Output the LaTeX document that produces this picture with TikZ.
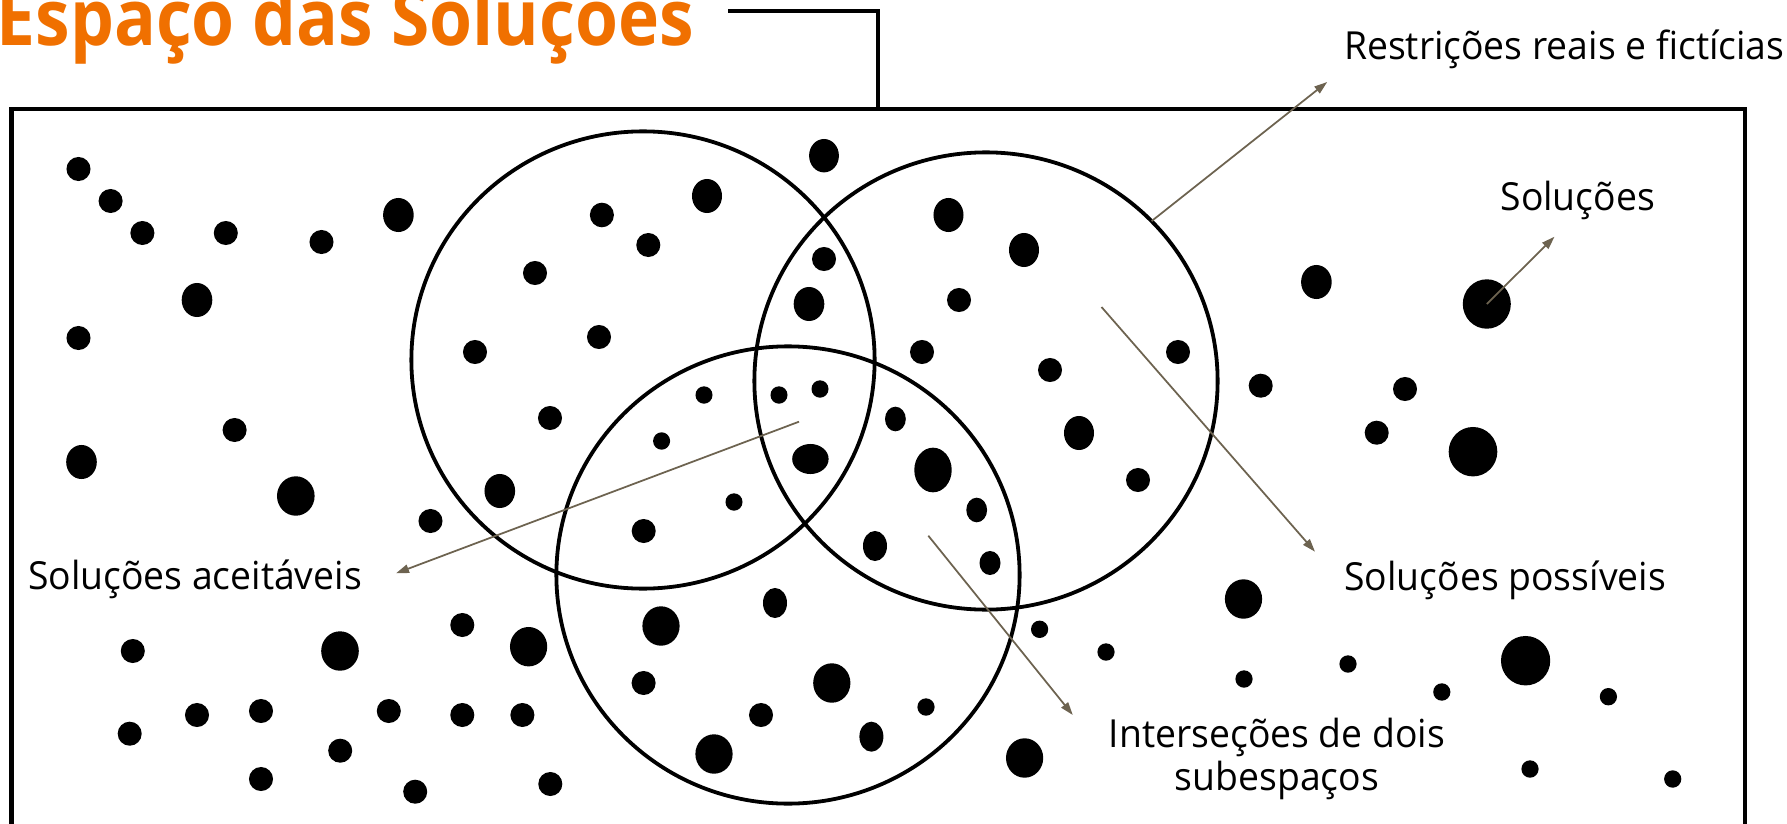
\documentclass[tikz,border=0pt]{standalone}
\usepackage{fontspec}
\setmainfont{Open Sans}[FakeStretch=0.965]
\newfontfamily\titlefont{Open Sans}[FakeStretch=0.89]
\usetikzlibrary{arrows.meta,shapes.geometric}
\definecolor{titleorange}{RGB}{240,112,0}
\definecolor{pointer}{RGB}{109,99,80}
\tikzset{
  frame/.style={line width=1.14pt, line join=miter},
  subspace/.style={ellipse, draw, line width=1.08pt, inner sep=0pt, outer sep=0pt,
    minimum width=4.63cm, minimum height=4.57cm},
  dot/.style={ellipse, fill=black, draw=none, inner sep=0pt, outer sep=0pt},
  lbl/.style={inner sep=0pt, outer sep=0pt, font=\fontsize{11}{12.2}\selectfont},
  pointerline/.style={draw=pointer, line width=0.5pt,
    -{Triangle[length=0.13cm,width=0.085cm]}, fill=pointer},
}
\begin{document}
\begin{tikzpicture}[x=0.01cm, y=-0.01cm]
\useasboundingbox (0,0) rectangle (1787,824);
\clip (0,0) rectangle (1787,824);

% title and its link to the frame
\node[inner sep=0pt, anchor=base west, text=titleorange,
      font=\titlefont\bfseries\fontsize{22.2}{24}\selectfont] (title) at (-4,45) {Espaço das Soluções};
\coordinate (titleLink) at (728,11);
\coordinate (frameTop) at (878,109);
\draw[frame] (titleLink) -| (frameTop);

% solution space frame (runs past the lower edge)
\draw[frame] (11.5,900) -- (11.5,109) -- (1745,109) -- (1745,900);

% individual solutions
\foreach \x/\y/\rx/\ry [count=\i] in {
  78.5/169/12/12, 110.6/201/12/12, 142.4/233/12/12, 225.8/233/12/12,
  321.5/242/12/12, 398.4/215/15.3/17, 197/300/15.3/17, 78.5/338/12/12,
  234.6/430/12/12, 81.5/462/15.3/17, 295.8/496/18.8/19.7, 430.5/521/12/12,
  535/273/12/12, 475/352/12/12, 550/418/12/12, 499.8/491/15.3/17,
  601.9/215/12/12.3, 648.3/245/12/12, 707/196/15/17, 599/337/12/12,
  824/155.7/14.9/16.7, 824/259/12/12, 809/304/15.3/17,
  948.5/215/15/17, 1024/250/15/17, 959/300/12/12, 922/352/12/12,
  1050/370/12/12, 1178/352/12/12, 1079/433/15/17, 1138/480/12/12,
  1316.4/282/15.3/17, 1260.7/385.7/12/12, 1405/389/12/12,
  1376.7/432.7/12/12, 1473/451.7/24.3/24.7,
  704/395/8.5/8.7, 779/395/8.5/8.7, 820/389/8.5/8.7, 661.6/441/8.5/8.7,
  810.4/459/18.2/15, 734/502/8.5/8.7, 643.7/531/12/12, 895.4/419/10.4/12.3,
  933/470/18.7/22.3, 976.7/510/10.4/12.3, 875/546/12/15, 990/563/10.5/12,
  775/603/12/15, 661/626/18.6/19.7, 643.6/683/12/12, 831.8/683/18.6/19.7,
  761/715/12/12, 926/707/8.6/8.7, 871.4/736.7/12/15, 714/754/18.6/19.7,
  528.6/646.7/18.6/19.7, 462.3/625/12/12, 522.4/715/12/12, 550.3/784/12/12,
  1024.6/758/18.6/19.7, 1039.6/629.3/8.6/8.7,
  132.8/651/12/12, 340/651/18.8/19.7, 197/715/12/12, 261/711/12/12,
  388.8/711/12/12, 462.3/715/12/12, 129.7/733.7/12/12, 340.2/750.7/12/12,
  261/779/12/12, 415.2/791.7/12/12,
  1243.5/599/18.6/19.7, 1106/652/8.6/8.7, 1244/679/8.6/8.7, 1348/664/8.6/8.7,
  1441.8/692/8.6/8.7, 1525.6/660.7/24.6/24.7, 1608.4/696.7/8.6/8.7,
  1530/769/8.6/8.7, 1672.7/779/8.6/8.7}
  \node[dot, minimum width=\rx*0.02cm, minimum height=\ry*0.02cm] (d\i) at (\x,\y) {};
\node[dot, minimum width=0.48cm, minimum height=0.494cm] (solDot) at (1486.8,304) {};

% the three subspaces
\node[subspace] (c1) at (643,360) {};
\node[subspace] (c2) at (986,381) {};
\node[subspace] (c3) at (788,575) {};

% labels
\node[lbl, anchor=base west] (restrLabel) at (1344,60) {Restrições reais e fictícias};
\node[lbl, anchor=base west] (solLabel) at (1500.5,210.7) {Soluções};
\node[lbl, anchor=base west] (possLabel) at (1344.4,590) {Soluções possíveis};
\node[lbl, anchor=base west] (accLabel) at (28,589.3) {Soluções aceitáveis};
\node[lbl, anchor=base, align=center] (interLabel) at (1277,790.7) {Interseções de dois\\subespaços};

% pointers
\coordinate (restrTip) at (1327.2,82);
\coordinate (solTip) at (1554.5,236.7);
\coordinate (possStart) at (1101.5,307);
\coordinate (possTip) at (1315,551.7);
\coordinate (accStart) at (799,421.7);
\coordinate (accTip) at (396,573.3);
\coordinate (interStart) at (928.3,535.7);
\coordinate (interTip) at (1072.8,715);

\draw[pointerline] (c2.44.6) -- (restrTip);
\draw[pointerline] (solDot.center) -- (solTip);
\draw[pointerline] (possStart) -- (possTip);
\draw[pointerline] (accStart) -- (accTip);
\draw[pointerline] (interStart) -- (interTip);
\end{tikzpicture}
\end{document}
